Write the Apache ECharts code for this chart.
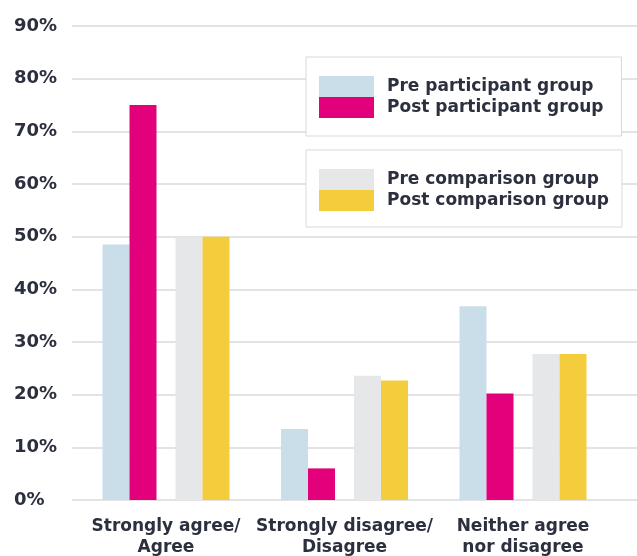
<!DOCTYPE html>
<html>
<head>
<meta charset="utf-8">
<script src="https://cdn.jsdelivr.net/npm/echarts@6/dist/echarts.min.js"></script>
<style>
  html, body { margin: 0; padding: 0; background: #ffffff; }
  #chart { width: 637px; height: 556px; }
</style>
</head>
<body>
<div id="chart"></div>
<script>
// Survey responses by group (percent of respondents)
const categories = ['Strongly agree/\nAgree', 'Strongly disagree/\nDisagree', 'Neither agree\nnor disagree'];
const prePartName = 'Pre participant group';
const postPartName = 'Post participant group';
const preCompName = 'Pre comparison group';
const postCompName = 'Post comparison group';
const prePart = [48.5, 13.5, 36.8];
const postPart = [75, 6, 20.2];
const preComp = [50, 23.6, 27.7];
const postComp = [50, 22.7, 27.7];
const yTicks = [0, 90, 10]; // min, max, step

const FONT = '"DejaVu Sans", sans-serif';
const INK = '#2b2f3e';
const colors = {
  prePart: '#cadeea',
  postPart: '#e3007b',
  preComp: '#e6e7e9',
  postComp: '#f3cd3b'
};

const chart = echarts.init(document.getElementById('chart'), null, { renderer: 'canvas' });

function barSeries(name, data, color) {
  return {
    name: name,
    type: 'bar',
    xAxisIndex: 1,
    yAxisIndex: 1,
    barWidth: 27,
    barGap: '0%',
    data: data,
    itemStyle: { color: color },
    emphasis: { disabled: true }
  };
}

const legendCommon = {
  orient: 'vertical',
  left: 306,
  icon: 'rect',
  itemWidth: 55,
  itemHeight: 21,
  itemGap: 0,
  backgroundColor: '#ffffff',
  borderColor: '#d9d9d9',
  borderWidth: 1,
  selectedMode: false,
  textStyle: {
    fontFamily: FONT,
    fontWeight: 'bold',
    fontSize: 17,
    color: INK,
    lineHeight: 21,
    padding: [0, 0, 0, 8]
  }
};

chart.setOption({
  animation: false,
  color: [colors.prePart, colors.postPart, colors.preComp, colors.postComp],
  grid: [
    // grid carrying the horizontal rules across the full width
    { left: 72, right: 0, top: 26, bottom: 56, outerBoundsMode: 'none' },
    // grid holding the grouped bars
    { left: 76.75, right: 24.75, top: 26, bottom: 56, outerBoundsMode: 'none' }
  ],
  legend: [
    Object.assign({}, legendCommon, {
      top: 57,
      padding: [19, 18, 18, 13],
      data: [prePartName, postPartName]
    }),
    Object.assign({}, legendCommon, {
      top: 150,
      padding: [19, 13, 16, 13],
      data: [preCompName, postCompName]
    })
  ],
  xAxis: [
    { type: 'value', gridIndex: 0, show: false, min: 0, max: 1 },
    {
      type: 'category',
      gridIndex: 1,
      data: categories,
      axisLine: { show: false },
      axisTick: { show: false },
      axisLabel: {
        interval: 0,
        margin: 16,
        fontFamily: FONT,
        fontWeight: 'bold',
        fontSize: 17,
        lineHeight: 21,
        color: INK
      }
    }
  ],
  yAxis: [
    {
      type: 'value',
      gridIndex: 0,
      min: yTicks[0],
      max: yTicks[1],
      interval: yTicks[2],
      axisLine: { show: false },
      axisTick: { show: false },
      splitLine: { lineStyle: { color: '#dadada', width: 1.5 } },
      axisLabel: {
        formatter: '{value}%',
        align: 'left',
        margin: 58,
        fontFamily: FONT,
        fontWeight: 'bold',
        fontSize: 18,
        color: INK
      }
    },
    {
      type: 'value',
      gridIndex: 1,
      min: yTicks[0],
      max: yTicks[1],
      interval: yTicks[2],
      show: false,
      splitLine: { show: false }
    }
  ],
  series: [
    barSeries(prePartName, prePart, colors.prePart),
    barSeries(postPartName, postPart, colors.postPart),
    // empty slot separating the participant pair from the comparison pair
    {
      name: 'gap',
      type: 'bar',
      xAxisIndex: 1,
      yAxisIndex: 1,
      barWidth: 19,
      barGap: '0%',
      data: [null, null, null],
      silent: true
    },
    barSeries(preCompName, preComp, colors.preComp),
    barSeries(postCompName, postComp, colors.postComp)
  ]
});
</script>
</body>
</html>
